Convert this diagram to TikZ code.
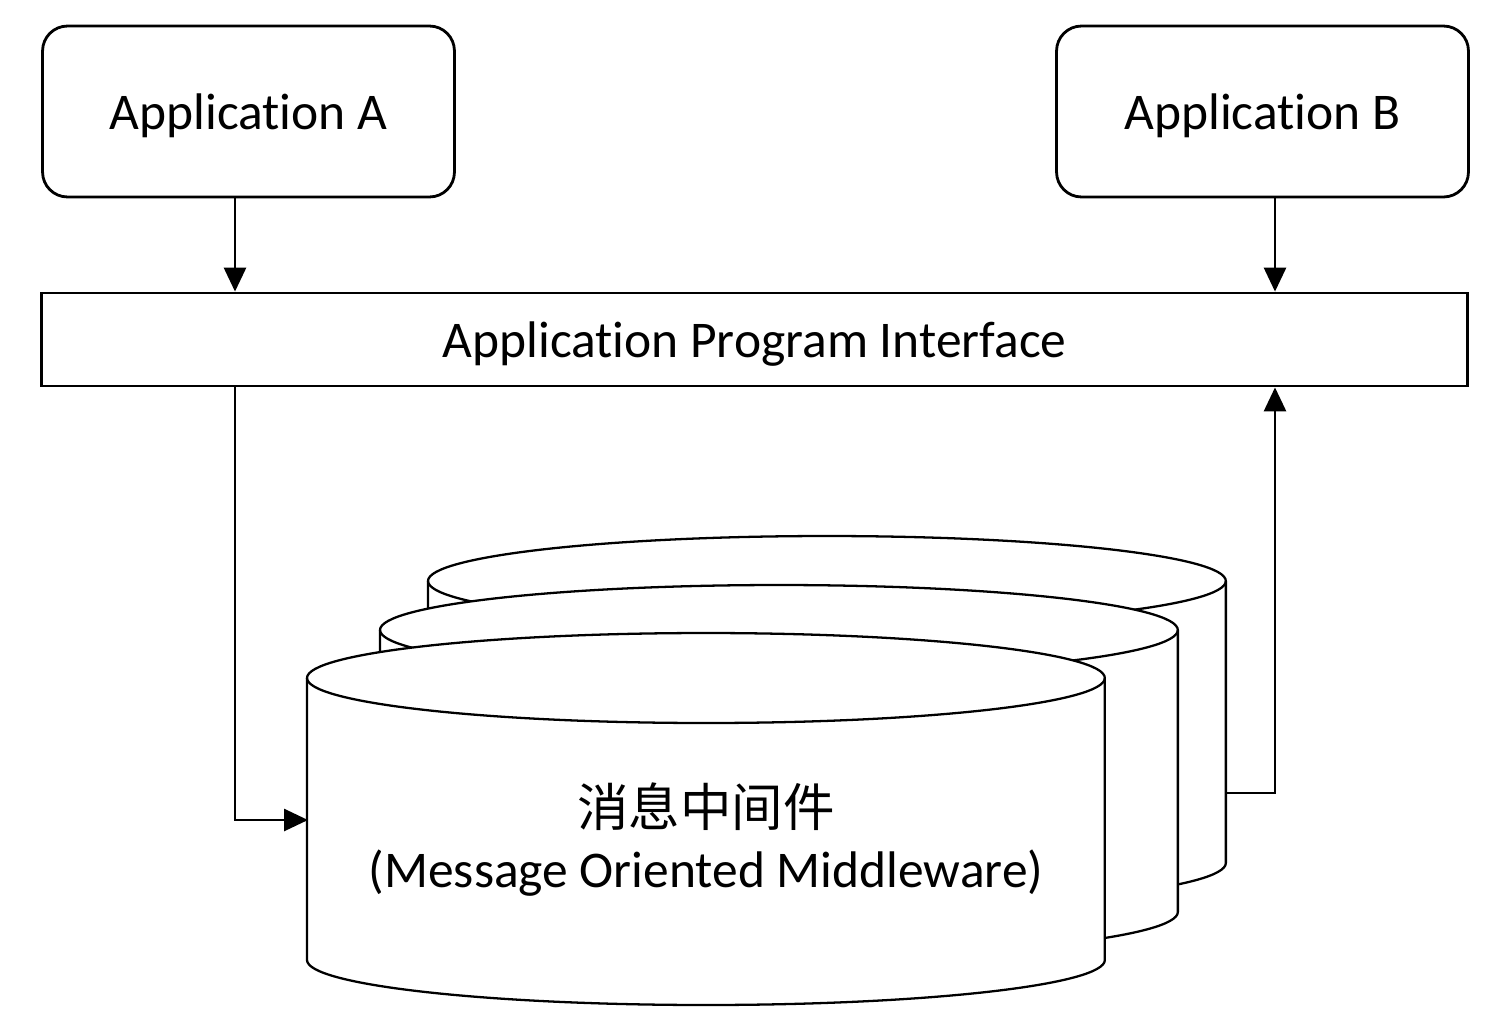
\documentclass[tikz,border=0pt]{standalone}
\usepackage{fontspec}
\setmainfont{Carlito}[Ligatures=NoCommon]
\newfontfamily\cjk{Noto Sans CJK SC}
\usetikzlibrary{arrows.meta, calc}

\begin{document}
\begin{tikzpicture}[x=0.02cm, y=-0.02cm, line width=1.6pt, font=\fontsize{29.3}{35}\selectfont,
  app/.style={draw, rounded corners=0.5cm, text depth=0pt, minimum width=8.24cm, minimum height=3.42cm},
  flow/.style={-{Triangle[length=0.48cm, width=0.44cm]}}]
\useasboundingbox (0,0) rectangle (1507,1032);
\node[app] (appA) at (248.5,111.5) {Application A};
\node[app] (appB) at (1262.5,111.5) {Application B};
\node[draw, text depth=0pt, minimum width=28.54cm, minimum height=1.86cm] (api) at (754.5,339.5) {Application Program Interface};
\foreach \cx/\ct in {827/581, 779/630, 706/678}{
\filldraw[fill=white, line width=1.3pt] (\cx-399,\ct) -- ++(0,282)
  arc[start angle=180, end angle=360, x radius=7.98cm, y radius=0.9cm] -- ++(0,-282)
  arc[start angle=0, end angle=180, x radius=7.98cm, y radius=0.9cm] -- cycle;
\draw[line width=1.3pt] (\cx-399,\ct) arc[start angle=180, end angle=360, x radius=7.98cm, y radius=0.9cm];
}
\node[anchor=base] (momZh) at (706,826) {\cjk 消息中间件};
\node[anchor=base] (momEn) at (706,887) {(Message Oriented Middleware)};
\coordinate (momIn) at (308,820);
\coordinate (momOut) at (1227,793);
\draw[flow] ([xshift=-0.27cm]appA.south) -- ([xshift=-0.27cm]appA.south |- api.north);
\draw[flow] ([xshift=0.25cm]appB.south) -- ([xshift=0.25cm]appB.south |- api.north);
\draw[flow] ([xshift=-0.27cm]appA.south |- api.south) |- (momIn);
\draw[flow] (momOut) -| ([xshift=0.25cm]appB.south |- api.south);
\end{tikzpicture}
\end{document}
